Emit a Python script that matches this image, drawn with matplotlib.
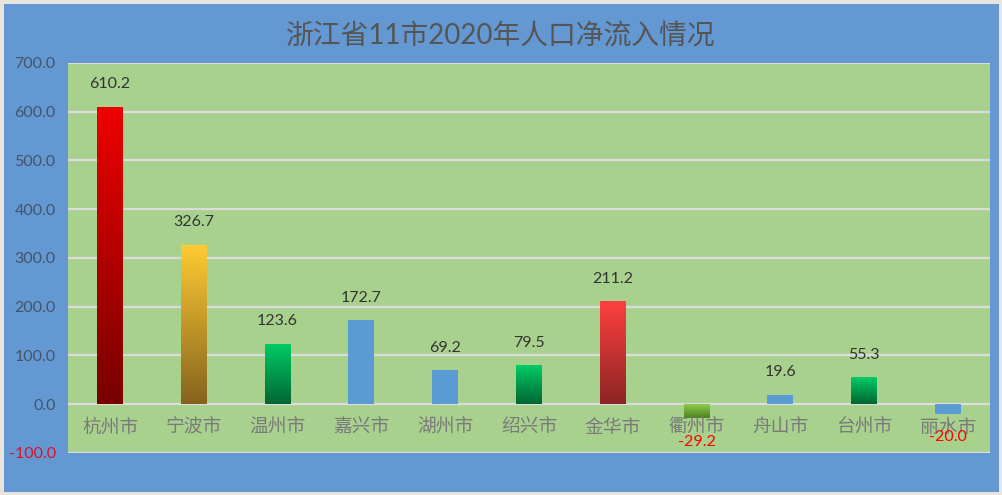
import numpy as np
import matplotlib
matplotlib.use('Agg')
from matplotlib import pyplot as plt
from matplotlib.colors import LinearSegmentedColormap
from matplotlib.patches import Rectangle

plt.rcParams['font.family'] = ['Lato', 'Noto Sans CJK SC', 'DejaVu Sans']

# Data
cities = ['杭州市', '宁波市', '温州市', '嘉兴市', '湖州市', '绍兴市',
          '金华市', '衢州市', '舟山市', '台州市', '丽水市']
values = [610.2, 326.7, 123.6, 172.7, 69.2, 79.5, 211.2, -29.2, 19.6, 55.3, -20.0]
# (top colour, bottom colour) per bar
bar_colors = [('#ee0000', '#780000'), ('#ffcc33', '#85631e'), ('#00cc66', '#006633'),
              ('#5b9bd5', '#5b9bd5'), ('#5b9bd5', '#5b9bd5'), ('#00cc66', '#006633'),
              ('#ff4040', '#8b2424'), ('#92d050', '#4f8020'), ('#5b9bd5', '#5b9bd5'),
              ('#00cc66', '#006633'), ('#5b9bd5', '#5b9bd5')]
yticks = [-100, 0, 100, 200, 300, 400, 500, 600, 700]
title = '浙江省11市2020年人口净流入情况'

fig = plt.figure(figsize=(10.02, 4.95), dpi=100)
fig.patch.set_facecolor('#6398d2')
# light outer border
fig.add_artist(Rectangle((0, 0), 1, 1, transform=fig.transFigure, fill=False,
                         edgecolor='#e9e5dc', lw=5, zorder=10))

ax = fig.add_axes([0.068, 0.085, 0.920, 0.788])
ax.set_facecolor('#a9d18e')

for y in yticks:
    ax.axhline(y, color='#dcdcdc', lw=1.6, zorder=1)

width = 0.31
x = np.arange(len(cities))
bars = ax.bar(x, values, width=width, color='none', zorder=2)
grad = np.linspace(0, 1, 256).reshape(-1, 1)
for b, (top, bot) in zip(bars, bar_colors):
    cmap = LinearSegmentedColormap.from_list('g', [bot, top])
    x0, y0 = b.get_x(), b.get_y()
    w, h = b.get_width(), b.get_height()
    y_lo, y_hi = min(y0, y0 + h), max(y0, y0 + h)
    im = ax.imshow(grad, cmap=cmap, aspect='auto', origin='lower',
                   extent=[x0, x0 + w, y_lo, y_hi], zorder=2)
    im.set_clip_path(b)
ax.set_xlim(-0.5, len(cities) - 0.5)
ax.set_ylim(-100, 700)

# value labels
for xi, v in zip(x, values):
    if v >= 0:
        ax.text(xi, v + 46, f'{v:.1f}', ha='center', va='center',
                fontsize=11.5, color='#333333', zorder=4)
    else:
        ax.text(xi, v - 48, f'{v:.1f}', ha='center', va='center',
                fontsize=11.5, color='#ff0000', zorder=4)

# category labels inside plot area
for xi, c in zip(x, cities):
    ax.text(xi, -47, c, ha='center', va='center', fontsize=13.5,
            color='#7a7a7a', family=['Noto Sans CJK SC', 'DejaVu Sans'], zorder=3)

ax.set_xticks([])
ax.set_yticks(yticks)
ax.set_yticklabels([f'{t:.1f}' for t in yticks], fontsize=11.5, color='#44546a')
ax.get_yticklabels()[0].set_color('#e0102a')
ax.tick_params(axis='y', length=0, pad=9)
for s in ax.spines.values():
    s.set_visible(False)

fig.text(0.5, 0.928, title, ha='center', va='center', fontsize=20, color='#555555')

fig.savefig('out.png', dpi=100, facecolor=fig.get_facecolor())
